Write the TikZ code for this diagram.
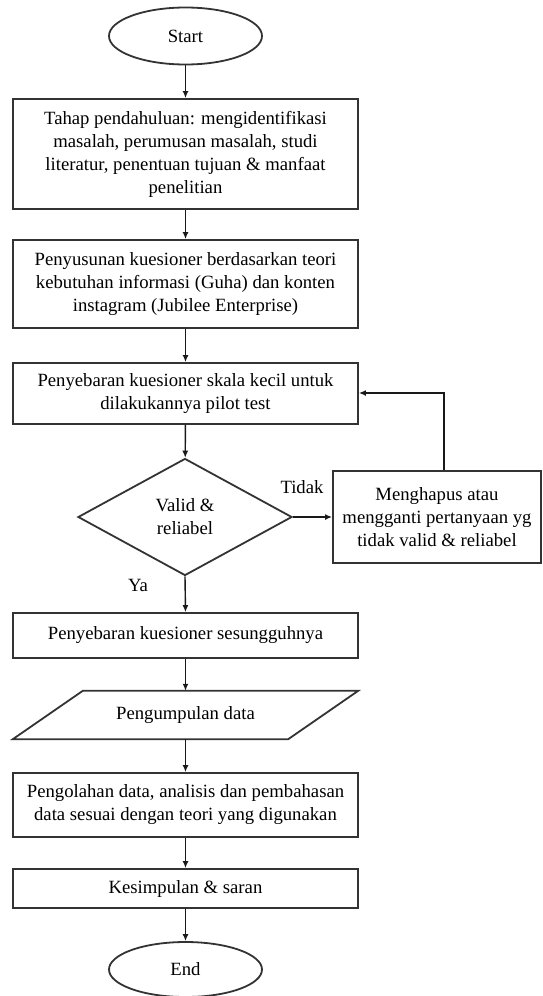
\documentclass[tikz,border=0pt]{standalone}
\usepackage{fontspec}
\setmainfont{Liberation Serif}
\usetikzlibrary{shapes.geometric,arrows.meta}
\tikzset{
  lineclr/.style={draw=black!80, line width=1.8pt},
  stepbox/.style={lineclr, rectangle, minimum width=345pt, inner sep=0pt, align=center, font=\fontsize{18.7}{23}\selectfont},
  term/.style={lineclr, ellipse, minimum width=153pt, inner sep=0pt, font=\fontsize{18.7}{23}\selectfont},
  arr/.style={draw=black!90, line width=1.4pt, -{Latex[length=7pt,width=6pt]}},
  lbl/.style={inner sep=0pt, font=\fontsize{18.7}{23}\selectfont}
}
\begin{document}
\begin{tikzpicture}[x=1pt,y=-1pt]
\useasboundingbox (0,0) rectangle (543,996);
\node[term, minimum height=57pt] (start) at (185.5,36) {Start};
\node[stepbox, minimum height=110pt] (b1) at (185.5,154) {Tahap pendahuluan: mengidentifikasi\\masalah, perumusan masalah, studi\\literatur, penentuan tujuan \& manfaat\\penelitian};
\node[stepbox, minimum height=88pt] (b2) at (185.5,284) {Penyusunan kuesioner berdasarkan teori\\kebutuhan informasi (Guha) dan konten\\instagram (Jubilee Enterprise)};
\node[stepbox, minimum height=61pt] (b3) at (185.5,393.5) {Penyebaran kuesioner skala kecil untuk\\dilakukannya pilot test};
\node[lineclr, diamond, minimum width=214pt, minimum height=117pt, inner sep=0pt, align=center, font=\fontsize{18.7}{23}\selectfont] (dec) at (185,517) {Valid \&\\reliabel};
\node[stepbox, minimum width=208pt, minimum height=92pt] (fix) at (437,517) {Menghapus atau\\mengganti pertanyaan yg\\tidak valid \& reliabel};
\node[stepbox, minimum height=45pt] (b4) at (185.5,635.5) {Penyebaran kuesioner sesungguhnya};
\node[rectangle, minimum width=345pt, minimum height=48pt, inner sep=0pt, font=\fontsize{18.7}{23}\selectfont] (data) at (185.5,715) {Pengumpulan data};
\draw[lineclr] ([xshift=70pt]data.north west) -- (data.north east) -- ([xshift=-70pt]data.south east) -- (data.south west) -- cycle;
\node[stepbox, minimum height=64pt] (b5) at (185.5,805) {Pengolahan data, analisis dan pembahasan\\data sesuai dengan teori yang digunakan};
\node[stepbox, minimum height=39pt] (b6) at (185.5,888.5) {Kesimpulan \& saran};
\node[term, minimum height=55pt] (end) at (185.5,969.5) {End};
\node[lbl] (tidak) at (302,487) {Tidak};
\node[lbl] (ya) at (138,585) {Ya};
\coordinate (fb) at (444,393);
\draw[arr] (start) -- (b1);
\draw[arr] (b1) -- (b2);
\draw[arr] (b2) -- (b3);
\draw[arr] (b3) -- (dec);
\draw[arr] (dec.east) -- (fix.west);
\draw[arr] (fix.north -| fb) -- (fb) -- (b3.east |- fb);
\draw[arr] (dec.south) -- (b4.north);
\draw[arr] (b4) -- (data);
\draw[arr] (data) -- (b5);
\draw[arr] (b5) -- (b6);
\draw[arr] (b6) -- (end);
\end{tikzpicture}
\end{document}
